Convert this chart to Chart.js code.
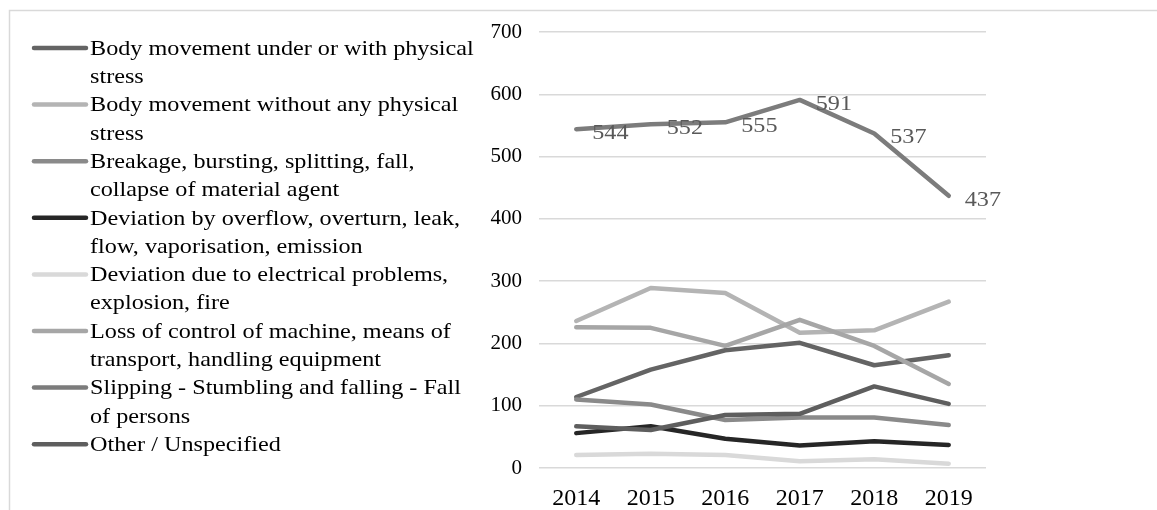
<!DOCTYPE html>
<html lang="en">
<head>
    <meta charset="UTF-8" />
    <title>Accidents by deviation</title>
    <script src="https://cdn.jsdelivr.net/npm/chart.js"></script>
    <style>
        html, body { margin: 0; padding: 0; background: #fff; }
        #wrap { width: 1157px; height: 510px; }
    </style>
</head>
<body>
    <div id="wrap"><canvas id="deviationChart" width="1157" height="510"></canvas></div>
    <script>
        const years = ['2014', '2015', '2016', '2017', '2018', '2019'];

        // series names, split where the original legend wraps
        const seriesNames = [
            ['Body movement under or with physical', 'stress'],
            ['Body movement without any physical', 'stress'],
            ['Breakage, bursting, splitting, fall,', 'collapse of material agent'],
            ['Deviation by overflow, overturn, leak,', 'flow, vaporisation, emission'],
            ['Deviation due to electrical problems,', 'explosion, fire'],
            ['Loss of control of machine, means of', 'transport, handling equipment'],
            ['Slipping - Stumbling and falling - Fall', 'of persons'],
            ['Other / Unspecified']
        ];

        const bodyStress = [114, 158, 189, 201, 165, 181];
        const bodyNoStress = [236, 289, 281, 217, 221, 267];
        const breakage = [110, 102, 77, 81, 81, 69];
        const overflow = [56, 67, 47, 36, 43, 37];
        const electrical = [21, 23, 21, 11, 14, 7];
        const lossControl = [226, 225, 196, 238, 196, 135];
        const slipping = [544, 552, 555, 591, 537, 437];
        const other = [67, 61, 85, 87, 131, 103];

        const yTicks = [0, 100, 200, 300, 400, 500, 600, 700];

        const colors = ['#646464', '#b4b4b4', '#8a8a8a', '#262626', '#d9d9d9', '#a6a6a6', '#7c7c7c', '#5e5e5e'];
        const allSeries = [bodyStress, bodyNoStress, breakage, overflow, electrical, lossControl, slipping, other];
        const labelledSeries = 6;

        const serif = '"Liberation Serif", "Times New Roman", serif';
        const stretch = 1.1; // the original text is a bit wide

        function wideText(ctx, txt, x, y) {
            ctx.save();
            ctx.translate(x, y);
            ctx.scale(stretch, 1);
            ctx.fillText(txt, 0, 0);
            ctx.restore();
        }

        // legend on the left, wrapped like the original
        const sideLegend = {
            id: 'sideLegend',
            afterDraw(chart) {
                const ctx = chart.ctx;
                ctx.save();
                // light frame (top and left edge)
                ctx.strokeStyle = '#d9d9d9';
                ctx.lineWidth = 1.5;
                ctx.beginPath();
                ctx.moveTo(9.5, 510);
                ctx.lineTo(9.5, 10.5);
                ctx.lineTo(1157, 10.5);
                ctx.stroke();

                ctx.font = '22px ' + serif;
                ctx.textBaseline = 'middle';
                ctx.textAlign = 'left';
                let y = 48;
                chart.data.datasets.forEach((ds, i) => {
                    ctx.strokeStyle = ds.borderColor;
                    ctx.lineWidth = 4.5;
                    ctx.lineCap = 'round';
                    ctx.beginPath();
                    ctx.moveTo(34, y);
                    ctx.lineTo(86, y);
                    ctx.stroke();

                    const lines = seriesNames[i];
                    ctx.fillStyle = '#000';
                    lines.forEach((ln, k) => wideText(ctx, ln, 90, y + k * 28.3 + 1));
                    y += lines.length * 28.3;
                });
                ctx.restore();
            }
        };

        // value labels for the largest series
        const valueLabels = {
            id: 'valueLabels',
            afterDatasetsDraw(chart) {
                const ctx = chart.ctx;
                const meta = chart.getDatasetMeta(labelledSeries);
                const vals = chart.data.datasets[labelledSeries].data;
                ctx.save();
                ctx.font = '22px ' + serif;
                ctx.fillStyle = '#595959';
                ctx.textAlign = 'left';
                ctx.textBaseline = 'middle';
                meta.data.forEach((pt, i) => {
                    wideText(ctx, String(vals[i]), pt.x + 16, pt.y + 4);
                });
                ctx.restore();
            }
        };

        const ctx = document.getElementById('deviationChart').getContext('2d');
        new Chart(ctx, {
            type: 'line',
            data: {
                labels: years,
                datasets: seriesNames.map((name, i) => ({
                    label: name.join(' '),
                    data: allSeries[i],
                    borderColor: colors[i],
                    backgroundColor: colors[i],
                    borderWidth: 4.5,
                    borderCapStyle: 'round',
                    borderJoinStyle: 'round',
                    pointRadius: 0,
                    tension: 0,
                    order: seriesNames.length - i
                }))
            },
            options: {
                responsive: false,
                animation: false,
                layout: { padding: { left: 470, right: 171, top: 32, bottom: 0 } },
                plugins: {
                    legend: { display: false },
                    tooltip: { enabled: false }
                },
                scales: {
                    x: {
                        offset: true,
                        grid: { display: false, drawTicks: false },
                        border: { display: false },
                        ticks: {
                            color: '#000',
                            font: { family: serif, size: 24 },
                            padding: 16,
                            maxRotation: 0
                        },
                        afterFit(scale) { scale.height = 42; }
                    },
                    y: {
                        min: 0,
                        max: 700,
                        afterBuildTicks(scale) { scale.ticks = yTicks.map(v => ({ value: v })); },
                        grid: { color: '#d9d9d9', lineWidth: 1.5, drawTicks: false },
                        border: { display: false },
                        ticks: {
                            color: '#000',
                            font: { family: serif, size: 21 },
                            padding: 17
                        },
                        afterFit(scale) { scale.width = 69; }
                    }
                }
            },
            plugins: [sideLegend, valueLabels]
        });
    </script>
</body>
</html>
